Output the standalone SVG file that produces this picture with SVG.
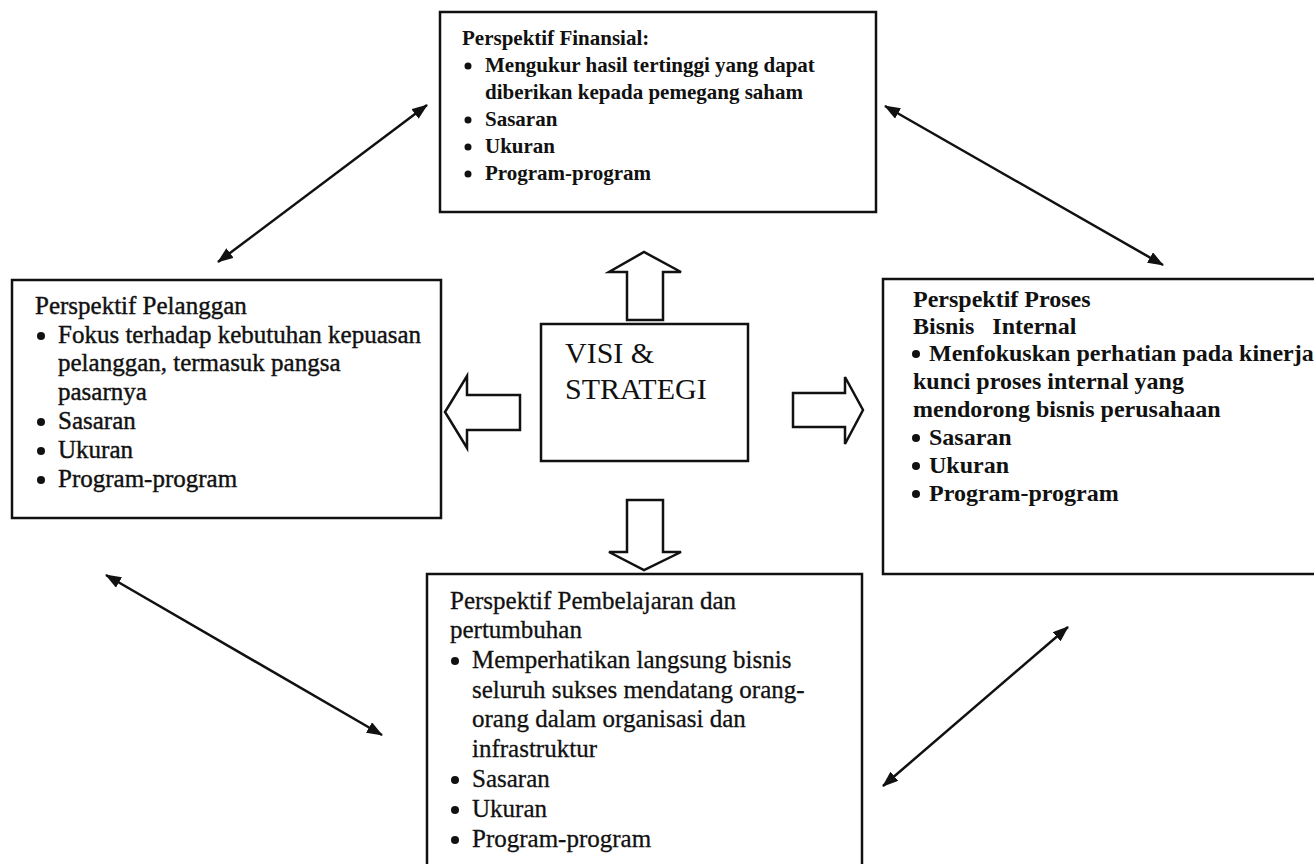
<svg xmlns="http://www.w3.org/2000/svg" width="1314" height="864" viewBox="0 0 1314 864">
  <defs>
    <marker id="head" viewBox="0 0 16 12" refX="15" refY="6" markerWidth="16" markerHeight="12" markerUnits="userSpaceOnUse" orient="auto-start-reverse">
      <path d="M0,0 L16,6 L0,12 z" fill="#111"/>
    </marker>
    <style>
      .box { fill: none; stroke: #111; stroke-width: 2.5; }
      .blk { fill: #fff; stroke: #111; stroke-width: 2.5; stroke-linejoin: miter; }
      .link { stroke: #111; stroke-width: 2.5; fill: none; marker-start: url(#head); marker-end: url(#head); }
      text { font-family: "Liberation Serif", "Times New Roman", serif; fill: #111; }
      .fin { font-size: 21px; font-weight: bold; }
      .pel { font-size: 25px; stroke: #111; stroke-width: 0.4; }
      .pro { font-size: 24px; font-weight: bold; }
      .pem { font-size: 25px; stroke: #111; stroke-width: 0.3; }
      .vis { font-size: 30px; }
      .dot { fill: #111; }
    </style>
  </defs>
  <rect width="1314" height="864" fill="#fff"/>

  <!-- Financial perspective -->
  <g id="finansial">
    <rect class="box" x="440" y="12" width="436" height="200"/>
    <text class="fin" x="462" y="45">Perspektif Finansial:</text>
    <circle class="dot" cx="468" cy="66" r="3.5"/>
    <text class="fin" x="485" y="72">Mengukur hasil tertinggi yang dapat</text>
    <text class="fin" x="485" y="99">diberikan kepada pemegang saham</text>
    <circle class="dot" cx="468" cy="120" r="3.5"/>
    <text class="fin" x="485" y="126">Sasaran</text>
    <circle class="dot" cx="468" cy="147" r="3.5"/>
    <text class="fin" x="485" y="153">Ukuran</text>
    <circle class="dot" cx="468" cy="174" r="3.5"/>
    <text class="fin" x="485" y="180">Program-program</text>
  </g>

  <!-- Customer perspective -->
  <g id="pelanggan">
    <rect class="box" x="12" y="280" width="429" height="238"/>
    <text class="pel" x="35" y="314">Perspektif Pelanggan</text>
    <circle class="dot" cx="41" cy="336" r="4"/>
    <text class="pel" x="58" y="343">Fokus terhadap kebutuhan kepuasan</text>
    <text class="pel" x="58" y="371">pelanggan, termasuk pangsa</text>
    <text class="pel" x="58" y="400">pasarnya</text>
    <circle class="dot" cx="41" cy="422" r="4"/>
    <text class="pel" x="58" y="429">Sasaran</text>
    <circle class="dot" cx="41" cy="451" r="4"/>
    <text class="pel" x="58" y="458">Ukuran</text>
    <circle class="dot" cx="41" cy="480" r="4"/>
    <text class="pel" x="58" y="487">Program-program</text>
  </g>

  <!-- Internal business process perspective -->
  <g id="proses">
    <rect class="box" x="883" y="279" width="440" height="295"/>
    <text class="pro" x="913" y="307">Perspektif Proses</text>
    <text class="pro" x="913" y="334" xml:space="preserve">Bisnis   Internal</text>
    <circle class="dot" cx="916" cy="354" r="4"/>
    <text class="pro" x="929" y="361">Menfokuskan perhatian pada kinerja</text>
    <text class="pro" x="913" y="389">kunci proses internal yang</text>
    <text class="pro" x="913" y="417">mendorong bisnis perusahaan</text>
    <circle class="dot" cx="916" cy="438" r="4"/>
    <text class="pro" x="929" y="445">Sasaran</text>
    <circle class="dot" cx="916" cy="466" r="4"/>
    <text class="pro" x="929" y="473">Ukuran</text>
    <circle class="dot" cx="916" cy="494" r="4"/>
    <text class="pro" x="929" y="501">Program-program</text>
  </g>

  <!-- Learning and growth perspective -->
  <g id="pembelajaran">
    <rect class="box" x="427" y="574" width="435" height="310"/>
    <text class="pem" x="450" y="609">Perspektif Pembelajaran dan</text>
    <text class="pem" x="450" y="638">pertumbuhan</text>
    <circle class="dot" cx="455" cy="661" r="4"/>
    <text class="pem" x="472" y="668">Memperhatikan langsung bisnis</text>
    <text class="pem" x="472" y="698">seluruh sukses mendatang orang-</text>
    <text class="pem" x="472" y="727">orang dalam organisasi dan</text>
    <text class="pem" x="472" y="757">infrastruktur</text>
    <circle class="dot" cx="455" cy="780" r="4"/>
    <text class="pem" x="472" y="787">Sasaran</text>
    <circle class="dot" cx="455" cy="810" r="4"/>
    <text class="pem" x="472" y="817">Ukuran</text>
    <circle class="dot" cx="455" cy="840" r="4"/>
    <text class="pem" x="472" y="847">Program-program</text>
  </g>

  <!-- Vision & strategy hub with its four block arrows -->
  <g id="visi">
    <rect class="box" x="541" y="324" width="207" height="137"/>
    <text class="vis" x="565" y="363">VISI &amp;</text>
    <text class="vis" x="565" y="399">STRATEGI</text>
  </g>
  <g id="block-arrows">
    <path class="blk" d="M627,320 L627,272 L609,272 L644,252 L681,272 L663,272 L663,320 Z"/>
    <path class="blk" d="M627,500 L627,552 L609,552 L644,570 L681,552 L663,552 L663,500 Z"/>
    <path class="blk" d="M520,395 L467,395 L467,376 L445,412 L467,448 L467,430 L520,430 Z"/>
    <path class="blk" d="M793,393 L845,393 L845,377 L863,410 L845,444 L845,427 L793,427 Z"/>
  </g>

  <!-- Two-way links between the perspectives -->
  <g id="connectors">
    <line class="link" x1="218" y1="262" x2="427" y2="105"/>
    <line class="link" x1="885" y1="106" x2="1163" y2="265"/>
    <line class="link" x1="106" y1="575" x2="382" y2="735"/>
    <line class="link" x1="1068" y1="627" x2="883" y2="786"/>
  </g>
</svg>
